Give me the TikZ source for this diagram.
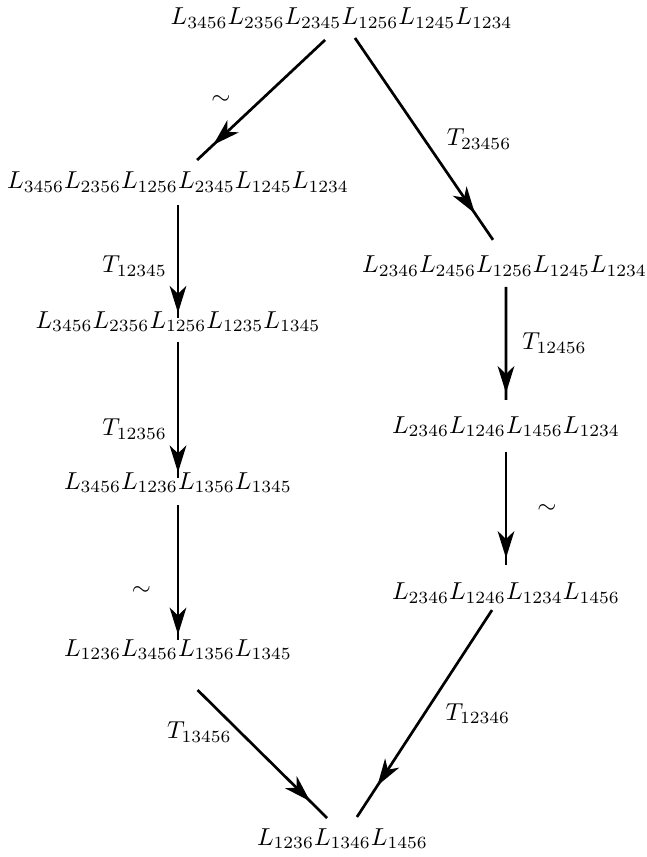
\documentclass[tikz,border=0pt]{standalone}
\usetikzlibrary{arrows.meta,decorations.markings}

\begin{document}
\begin{tikzpicture}[
    x=0.01434cm, y=-0.01434cm,
    term/.style={anchor=base, inner sep=0pt, outer sep=0pt},
    move/.style={line width=1.1pt, postaction={decorate},
        decoration={markings, mark=at position #1 with {\arrow{Stealth[length=11pt, width=6.8pt, inset=3.2pt]}}}},
    move/.default=0.9,
    lbl/.style={inner sep=0pt}
]
\useasboundingbox (0,0) rectangle (647,857);

% words, left column and right column (coordinates in px, y down)
\node[term] (top) at (341.5,24.5) {$L_{3456}L_{2356}L_{2345}L_{1256}L_{1245}L_{1234}$};
\node[term] (l2) at (178,189) {$L_{3456}L_{2356}L_{1256}L_{2345}L_{1245}L_{1234}$};
\node[term] (l3) at (178,328) {$L_{3456}L_{2356}L_{1256}L_{1235}L_{1345}$};
\node[term] (l4) at (178,489) {$L_{3456}L_{1236}L_{1356}L_{1345}$};
\node[term] (l5) at (178,656) {$L_{1236}L_{3456}L_{1356}L_{1345}$};
\node[term] (r1) at (504.5,273) {$L_{2346}L_{2456}L_{1256}L_{1245}L_{1234}$};
\node[term] (r2) at (506,433) {$L_{2346}L_{1246}L_{1456}L_{1234}$};
\node[term] (r3) at (506,599.5) {$L_{2346}L_{1246}L_{1234}L_{1456}$};
\node[term] (bot) at (342.5,845) {$L_{1236}L_{1346}L_{1456}$};

% left branch
\draw[move=0.875] ([xshift=-6.7pt, yshift=-4.8pt]top.south) -- ([xshift=7.8pt, yshift=5pt]l2.north)
    node[lbl, pos=0.5, left=12pt] (m1) {$\sim$};
\draw[move=0.956] ([yshift=-5pt]l2.south) -- ([yshift=-2.7pt]l3.north)
    node[lbl, pos=0.54, left=4pt] (m2) {$T_{12345}$};
\draw[move=0.96] ([yshift=-4.2pt]l3.south) -- ([yshift=-2.3pt]l4.north)
    node[lbl, pos=0.64, left=4pt] (m3) {$T_{12356}$};
\draw[move=0.96] ([yshift=-5pt]l4.south) -- ([yshift=-0.3pt]l5.north)
    node[lbl, pos=0.64, left=10.5pt] (m4) {$\sim$};
\draw[move=0.87] ([xshift=8pt, yshift=-12.4pt]l5.south) -- ([xshift=-6.3pt, yshift=4.2pt]bot.north)
    node[lbl, pos=0.33, left=3pt] (m5) {$T_{13456}$};

% right branch
\draw[move=0.87] ([xshift=5.5pt, yshift=-4pt]top.south) -- ([xshift=-4.7pt, yshift=6.7pt]r1.north)
    node[lbl, pos=0.5, right=8.8pt] (m6) {$T_{23456}$};
\draw[move=0.94] ([xshift=0.6pt, yshift=-4.2pt]r1.south) -- ([yshift=6.7pt]r2.north)
    node[lbl, pos=0.5, right=6.1pt] (m7) {$T_{12456}$};
\draw[move=0.94] ([yshift=-6.2pt]r2.south) -- ([yshift=7.3pt]r3.north)
    node[lbl, pos=0.51, right=12.3pt] (m8) {$\sim$};
\draw[move=0.85] ([xshift=-5.7pt, yshift=-2.8pt]r3.south) -- ([xshift=5.9pt, yshift=4.6pt]bot.north)
    node[lbl, pos=0.5, right=8.1pt] (m9) {$T_{12346}$};

\end{tikzpicture}
\end{document}
